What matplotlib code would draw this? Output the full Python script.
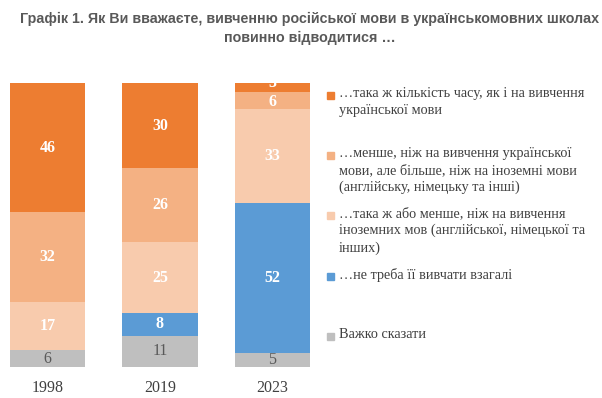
import numpy as np
import matplotlib.pyplot as plt
from matplotlib.patches import Rectangle

#--------------------
# Data
years = ["1998", "2019", "2023"]
hard_to_say = [6, 11, 5]
not_needed = [0, 8, 52]
same_or_less_foreign = [17, 25, 33]
less_than_ukr = [32, 26, 6]
same_as_ukr = [46, 30, 3]

series_labels = [
    "Важко сказати",
    "…не треба її вивчати взагалі",
    "…така ж або менше, ніж на вивчення\nіноземних мов (англійської, німецької та\nінших)",
    "…менше, ніж на вивчення української\nмови, але більше, ніж на іноземні мови\n(англійську, німецьку та інші)",
    "…така ж кількість часу, як і на вивчення\nукраїнської мови",
]

#--------------------
# Style
colors = ["#BFBFBF", "#5B9BD5", "#F8CBAD", "#F4B183", "#ED7D31"]
text_colors = ["#595959", "white", "white", "white", "white"]
weights = ["normal", "bold", "bold", "bold", "bold"]
SERIF = "Liberation Serif"
W, H = 602, 398

fig = plt.figure(figsize=(W / 100, H / 100), dpi=100)

# axes placed in pixel terms: bars from y=83 to y=367
ax = fig.add_axes([0, (H - 367) / H, 310 / W, 284 / H])

series = np.array([hard_to_say, not_needed, same_or_less_foreign,
                   less_than_ukr, same_as_ukr], dtype=float)
pct = series / series.sum(axis=0) * 100
x = np.arange(len(years))
bottom = np.zeros(len(years))
for i in range(len(series)):
    ax.bar(x, pct[i], bottom=bottom, width=0.667, color=colors[i], linewidth=0)
    for j in range(len(years)):
        if series[i][j] > 0:
            # tiny top segments: nudge so the labels don't collide
            dy = 0
            if pct[i][j] < 4:
                dy = 3
            elif pct[i][j] < 8 and i > 0:
                dy = -1
            ax.annotate(f"{int(series[i][j])}", (x[j], bottom[j] + pct[i][j] / 2),
                        xytext=(0, dy), textcoords="offset points",
                        ha="center", va="center", color=text_colors[i],
                        fontweight=weights[i], family=SERIF, fontsize=11.5,
                        annotation_clip=False)
    bottom += pct[i]

ax.set_xlim(-47.5 / 112.5, (310 - 47.5) / 112.5)
ax.set_ylim(0, 100)
ax.set_xticks(x)
ax.set_xticklabels(years, family=SERIF, fontsize=11.5, color="#404040")
ax.tick_params(axis="x", length=0, pad=9)
ax.set_yticks([])
for s in ax.spines.values():
    s.set_visible(False)

# Legend drawn by hand (top entry first)
legend_y = [95, 155, 215, 276, 336]
for k, yy in enumerate(legend_y):
    idx = len(series) - 1 - k
    fig.patches.append(Rectangle((327 / W, 1 - (yy + 4) / H), 7 / W, 7 / H,
                                 transform=fig.transFigure, color=colors[idx]))
    fig.text(339 / W, 1 - (yy - 8) / H, series_labels[idx], family=SERIF,
             fontsize=10.3, color="#404040", va="top", ha="left", linespacing=1.38)

fig.text(310 / W, 1 - 12 / H,
         "Графік 1. Як Ви вважаєте, вивченню російської мови в українськомовних школах\nповинно відводитися …",
         ha="center", va="top", family="Liberation Sans", fontweight="bold",
         fontsize=10.3, color="#595959", linespacing=1.4)

fig.savefig("out.png", dpi=100)
